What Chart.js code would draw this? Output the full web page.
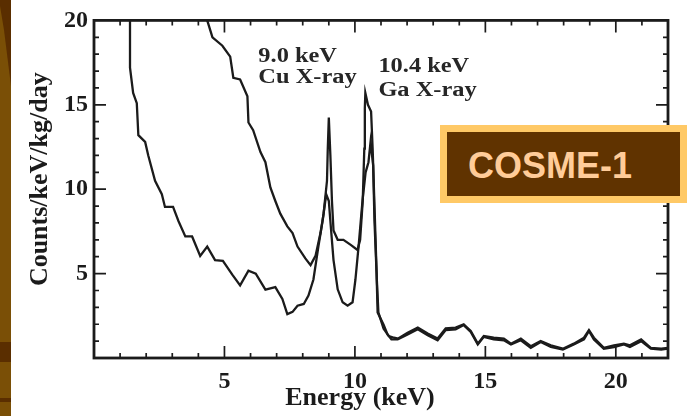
<!DOCTYPE html>
<html>
<head>
<meta charset="utf-8">
<title>COSME-1 low-energy spectrum</title>
<script src="https://cdn.jsdelivr.net/npm/chart.js@4.4.1/dist/chart.umd.min.js"></script>
<style>
  html, body { margin: 0; padding: 0; background: #fff; }
  body { width: 687px; height: 416px; position: relative; overflow: hidden; }
  #strip { position: absolute; left: 0; top: 0; width: 11px; height: 416px; background: #7a4f06; }
  #strip .corner { position: absolute; left: 0; top: 0; width: 11px; height: 90px; background: #5a2e00;
                   clip-path: polygon(0 0, 100% 0, 100% 86px, 4px 30px, 0 6px); }
  #strip .band { position: absolute; left: 0; top: 342px; width: 11px; height: 20px; background: #5a2e00; }
  #strip .line { position: absolute; left: 0; top: 398px; width: 11px; height: 4px; background: #5a2e00; }
  #wrap { position: absolute; left: 11px; top: 0; width: 676px; height: 416px; }
  #tag { position: absolute; left: 440px; top: 125px; width: 247px; height: 78px; box-sizing: border-box;
         border: 7px solid #ffc966; background: #603300; color: #ffcc99; padding-left: 21px;
         font: bold 36px "Liberation Sans", Arial, sans-serif; line-height: 64px; white-space: nowrap; }
  #tag span { position: relative; top: 2px; }
</style>
</head>
<body>
<div id="strip"><div class="corner"></div><div class="band"></div><div class="line"></div></div>
<div id="wrap"><canvas id="spec" width="676" height="416"></canvas></div>
<div id="tag"><span>COSME-1</span></div>
<script>
// Spectrum with the higher low-energy background
const energyA = [4.25, 4.34, 4.54, 4.92, 5.22, 5.34, 5.6, 5.88, 5.92, 6.1, 6.38, 6.57, 6.76, 6.95, 7.14, 7.41,
  7.61, 7.8, 8.1, 8.3, 8.49, 8.68, 8.8, 8.93, 8.96, 9.0, 9.06, 9.12, 9.18, 9.34, 9.56, 9.84, 10.1, 10.2,
  10.3, 10.36, 10.38, 10.4, 10.5, 10.62, 10.68, 10.76, 10.84, 10.9, 11.1, 11.3, 11.5, 11.66, 12.02, 12.41,
  12.79, 13.17, 13.48, 13.86, 14.17, 14.44, 14.71, 14.94, 15.32, 15.71, 15.98, 16.36, 16.74, 17.12, 17.51,
  17.97, 18.39, 18.78, 18.97, 19.16, 19.54, 19.93, 20.31, 20.54, 20.97, 21.34, 21.74, 22.0];
const countsA = [21, 20, 19.0, 18.5, 17.85, 16.6, 16.5, 15.5, 13.95, 13.5, 12.2, 11.6, 10.1, 9.3, 8.55, 7.8,
  7.4, 6.6, 5.9, 5.5, 6.05, 7.4, 8.55, 10.5, 12.4, 14.25, 12.0, 9.3, 7.55, 7.0, 7.0, 6.7, 6.4, 7.0,
  9.3, 12.4, 14.8, 15.7, 15.0, 14.6, 12.4, 8.55, 4.65, 2.7, 1.74, 1.3, 1.2, 1.15, 1.5, 1.8,
  1.45, 1.15, 1.75, 1.8, 2.0, 1.6, 0.85, 1.3, 1.2, 1.15, 0.85, 1.15, 0.7, 1.0, 0.75,
  0.55, 0.85, 1.2, 1.65, 1.2, 0.6, 0.75, 0.85, 0.75, 1.1, 0.6, 0.55, 0.6];

// Spectrum with the lower background
const energyB = [1.38, 1.38, 1.5, 1.64, 1.7, 1.96, 2.08, 2.34, 2.6, 2.72, 3.03, 3.24, 3.5, 3.76, 4.07, 4.34,
  4.64, 4.94, 5.3, 5.6, 5.92, 6.2, 6.57, 6.95, 7.22, 7.41, 7.61, 7.8, 8.04, 8.22, 8.41, 8.6, 8.76, 8.9,
  9.0, 9.06, 9.18, 9.34, 9.53, 9.72, 9.91, 10.02, 10.14, 10.29, 10.41, 10.52, 10.6, 10.7, 10.75, 10.83,
  10.87, 11.1, 11.25, 11.4, 11.64, 12.02, 12.41, 12.79, 13.17, 13.48, 13.86, 14.17, 14.44, 14.71, 14.94,
  15.32, 15.71, 15.98, 16.36, 16.74, 17.12, 17.51, 17.97, 18.39, 18.78, 18.97, 19.16, 19.54, 19.93, 20.31,
  20.54, 20.97, 21.34, 21.74, 22.0];
const countsB = [22, 17.2, 15.7, 15.1, 13.2, 12.8, 12.0, 10.5, 9.7, 8.95, 8.95, 8.1, 7.2, 7.2, 6.05, 6.6,
  5.8, 5.75, 4.94, 4.3, 5.17, 5.0, 4.05, 4.2, 3.5, 2.6, 2.73, 3.1, 3.2, 3.7, 4.65, 6.6, 8.1, 9.7,
  9.3, 8.1, 5.8, 4.07, 3.3, 3.1, 3.3, 4.65, 6.6, 9.3, 11.0, 11.6, 12.8, 11.4, 8.1, 5.06,
  2.7, 1.97, 1.4, 1.1, 1.1, 1.4, 1.7, 1.35, 1.05, 1.65, 1.7, 1.95, 1.55, 0.8, 1.25,
  1.1, 1.05, 0.8, 1.05, 0.6, 0.95, 0.65, 0.5, 0.8, 1.1, 1.6, 1.1, 0.55, 0.65, 0.8,
  0.65, 1.0, 0.55, 0.5, 0.55];

// Axis tick labels
const energyTicks = [5, 10, 15, 20];
const countTicks = [5, 10, 15, 20];

// Axis titles and peak notes
const xTitle = 'Energy (keV)';
const yTitle = 'Counts/keV/kg/day';
const peakNotes = [['9.0 keV', 'Cu X-ray'], ['10.4 keV', 'Ga X-ray']];

const INK = '#1b1b1b';
const SERIF = '"Liberation Serif", "Times New Roman", serif';

const toPoints = (xs, ys) => xs.map((e, i) => ({ x: e, y: ys[i] }));

// Frame with inward ticks on all four sides, axis titles and peak notes
const framePlugin = {
  id: 'frameTicks',
  afterDatasetsDraw(chart) {
    const { ctx, chartArea: a, scales: { x, y } } = chart;
    ctx.save();
    ctx.strokeStyle = INK;
    ctx.lineWidth = 1.7;
    ctx.beginPath();
    for (let e = Math.ceil(x.min) + 1; e < x.max; e++) {
      const px = x.getPixelForValue(e);
      const len = e % 5 === 0 ? 12 : 5;
      ctx.moveTo(px, a.bottom); ctx.lineTo(px, a.bottom - len);
      ctx.moveTo(px, a.top); ctx.lineTo(px, a.top + len);
    }
    for (let c = Math.ceil(y.min) + 1; c < y.max; c++) {
      const py = y.getPixelForValue(c);
      const len = c % 5 === 0 ? 12 : 5;
      ctx.moveTo(a.left, py); ctx.lineTo(a.left + len, py);
      ctx.moveTo(a.right, py); ctx.lineTo(a.right - len, py);
    }
    ctx.stroke();
    ctx.lineWidth = 2.8;
    ctx.strokeRect(a.left, a.top, a.right - a.left, a.bottom - a.top);

    // axis titles
    ctx.fillStyle = INK;
    ctx.font = 'bold 26px ' + SERIF;
    ctx.textAlign = 'center';
    ctx.textBaseline = 'alphabetic';
    ctx.fillText(xTitle, (a.left + a.right) / 2 - 21, 405);
    ctx.save();
    ctx.translate(36, (a.top + a.bottom) / 2 - 10);
    ctx.rotate(-Math.PI / 2);
    ctx.fillText(yTitle, 0, 0);
    ctx.restore();

    // peak notes, set in a slightly widened face
    ctx.font = 'bold 20px ' + SERIF;
    ctx.textAlign = 'left';
    ctx.fillStyle = '#262626';
    const spots = [[6.3, 17.56, 16.28], [10.9, 16.92, 15.52]];
    peakNotes.forEach((lines, i) => {
      const [e, v1, v2] = spots[i];
      const px = x.getPixelForValue(e);
      [v1, v2].forEach((v, j) => {
        ctx.save();
        ctx.translate(px, y.getPixelForValue(v));
        ctx.scale(1.22, 1);
        ctx.fillText(lines[j], 0, 0);
        ctx.restore();
      });
    });
    ctx.restore();
  }
};

const tickFont = { family: SERIF, size: 24, weight: 'bold' };

new Chart(document.getElementById('spec'), {
  type: 'line',
  data: {
    datasets: [
      { data: toPoints(energyA, countsA), borderColor: INK, borderWidth: 2.3, pointRadius: 0, tension: 0, clip: 0 },
      { data: toPoints(energyB, countsB), borderColor: INK, borderWidth: 2.3, pointRadius: 0, tension: 0, clip: 0 }
    ]
  },
  options: {
    responsive: false,
    animation: false,
    devicePixelRatio: 1,
    parsing: false,
    layout: { padding: { left: 0, right: 19, top: 14, bottom: 0 } },
    plugins: { legend: { display: false }, tooltip: { enabled: false } },
    scales: {
      x: {
        type: 'linear', position: 'bottom', min: 0, max: 22,
        afterBuildTicks: s => { s.ticks = energyTicks.map(v => ({ value: v })); },
        afterFit: s => { s.height = 58; },
        grid: { display: false, drawTicks: false },
        border: { display: false },
        ticks: { padding: 9, color: INK, font: tickFont, maxRotation: 0, autoSkip: false }
      },
      y: {
        type: 'linear', position: 'left', min: 0, max: 20,
        afterBuildTicks: s => { s.ticks = countTicks.map(v => ({ value: v })); },
        afterFit: s => { s.width = 83; },
        grid: { display: false, drawTicks: false },
        border: { display: false },
        ticks: { padding: 6, color: INK, font: tickFont, autoSkip: false }
      }
    }
  },
  plugins: [framePlugin]
});
</script>
</body>
</html>
